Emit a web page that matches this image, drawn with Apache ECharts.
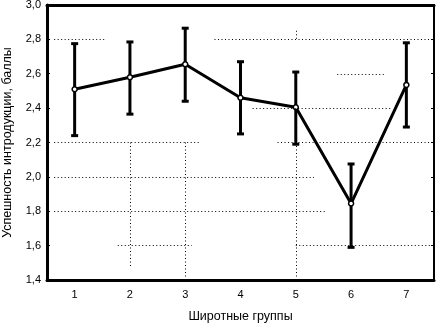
<!DOCTYPE html>
<html>
<head>
<meta charset="utf-8">
<script src="https://cdn.jsdelivr.net/npm/echarts@6/dist/echarts.min.js"></script>
<style>
  html, body { margin: 0; padding: 0; background: #fff; }
  #chart { width: 437px; height: 326px; }
</style>
</head>
<body>
<div id="chart"></div>
<script>
var groups = ['1', '2', '3', '4', '5', '6', '7'];
var means = [2.51, 2.58, 2.655, 2.46, 2.405, 1.845, 2.535];
var lower = [2.24, 2.365, 2.44, 2.25, 2.19, 1.59, 2.29];
var upper = [2.775, 2.785, 2.865, 2.67, 2.61, 2.075, 2.78];

// broken dotted grid pieces of the original, in data units [x1, y1, x2, y2]
var gridBits = [
    [-0.37, 2.8, 0.58, 2.8], [2.53, 2.8, 6.5, 2.8], [4, 2.85, 4, 2.8],
    [4.75, 2.6, 5.63, 2.6],
    [3.22, 2.4, 5.74, 2.4],
    [-0.37, 2.2, 2.26, 2.2], [3.67, 2.2, 6.5, 2.2],
    [-0.37, 2.0, 4.33, 2.0],
    [-0.37, 1.8, 4.55, 1.8],
    [0.78, 1.6, 2.12, 1.6], [4, 1.6, 6.5, 1.6],
    [1, 2.2, 1, 1.47], [2, 2.2, 2, 1.4], [4, 2.2, 4, 1.4]
];

var dom = document.getElementById('chart');
var myChart = echarts.init(dom);

var fontFam = 'Liberation Sans, Arial, sans-serif';

var errData = groups.map(function (g, i) { return [i, lower[i], upper[i]]; });

var option = {
    animation: false,
    grid: { left: 47, right: 3, top: 5, bottom: 46, outerBoundsMode: 'none', containLabel: false },
    xAxis: [{
        type: 'category',
        data: groups,
        boundaryGap: true,
        name: 'Широтные группы',
        nameLocation: 'middle',
        nameGap: 30,
        nameTextStyle: { color: '#000', fontSize: 12.5, fontFamily: fontFam },
        axisLine: { onZero: false, lineStyle: { color: '#000', width: 3 } },
        axisTick: { inside: true, length: 3, alignWithLabel: true, lineStyle: { color: '#000', width: 1 } },
        axisLabel: { color: '#000', fontSize: 11, fontFamily: fontFam, margin: 9 },
        splitLine: { show: false }
    }, {
        type: 'value',
        min: -0.5,
        max: 6.5,
        show: false
    }, {
        type: 'category',
        data: groups,
        position: 'top',
        axisLine: { onZero: false, lineStyle: { color: '#000', width: 3 } },
        axisTick: { inside: true, length: 3, alignWithLabel: true, lineStyle: { color: '#000', width: 1 } },
        axisLabel: { show: false },
        splitLine: { show: false }
    }],
    yAxis: [{
        type: 'value',
        min: 1.4,
        max: 3.0,
        interval: 0.2,
        name: 'Успешность интродукции, баллы',
        nameLocation: 'middle',
        nameGap: 33,
        nameTextStyle: { color: '#000', fontSize: 12.5, fontFamily: fontFam },
        axisLine: { show: true, onZero: false, lineStyle: { color: '#000', width: 3 } },
        axisTick: { show: true, inside: true, length: 3, lineStyle: { color: '#000', width: 1 } },
        axisLabel: {
            color: '#000', fontSize: 11, fontFamily: fontFam, margin: 6,
            formatter: function (v) { return v.toFixed(1).replace('.', ','); }
        },
        splitLine: { show: false }
    }, {
        type: 'value',
        min: 1.4,
        max: 3.0,
        interval: 0.2,
        position: 'right',
        axisLine: { show: true, onZero: false, lineStyle: { color: '#000', width: 2 } },
        axisTick: { show: true, inside: true, length: 3, lineStyle: { color: '#000', width: 1 } },
        axisLabel: { show: false },
        splitLine: { show: false }
    }],
    series: [{
        type: 'line',
        xAxisIndex: 1,
        data: [],
        silent: true,
        markLine: {
            silent: true,
            symbol: 'none',
            label: { show: false },
            lineStyle: { color: '#000', width: 1, type: [1, 2.5], opacity: 1 },
            emphasis: { disabled: true },
            data: gridBits.map(function (b) {
                return [{ coord: [b[0], b[1]] }, { coord: [b[2], b[3]] }];
            })
        }
    }, {
        type: 'custom',
        data: errData,
        z: 3,
        renderItem: function (params, api) {
            var x = api.value(0);
            var lo = api.coord([x, api.value(1)]);
            var hi = api.coord([x, api.value(2)]);
            var w = 3.5;
            var st = { stroke: '#000', lineWidth: 3 };
            return {
                type: 'group',
                children: [
                    { type: 'line', shape: { x1: lo[0], y1: lo[1], x2: hi[0], y2: hi[1] }, style: st },
                    { type: 'line', shape: { x1: lo[0] - w, y1: lo[1], x2: lo[0] + w, y2: lo[1] }, style: st },
                    { type: 'line', shape: { x1: hi[0] - w, y1: hi[1], x2: hi[0] + w, y2: hi[1] }, style: st }
                ]
            };
        }
    }, {
        type: 'line',
        data: means,
        z: 4,
        symbol: 'circle',
        symbolSize: 5,
        lineStyle: { color: '#000', width: 3 },
        itemStyle: { color: '#fff', borderColor: '#000', borderWidth: 1.5 }
    }]
};

myChart.setOption(option);
</script>
</body>
</html>
